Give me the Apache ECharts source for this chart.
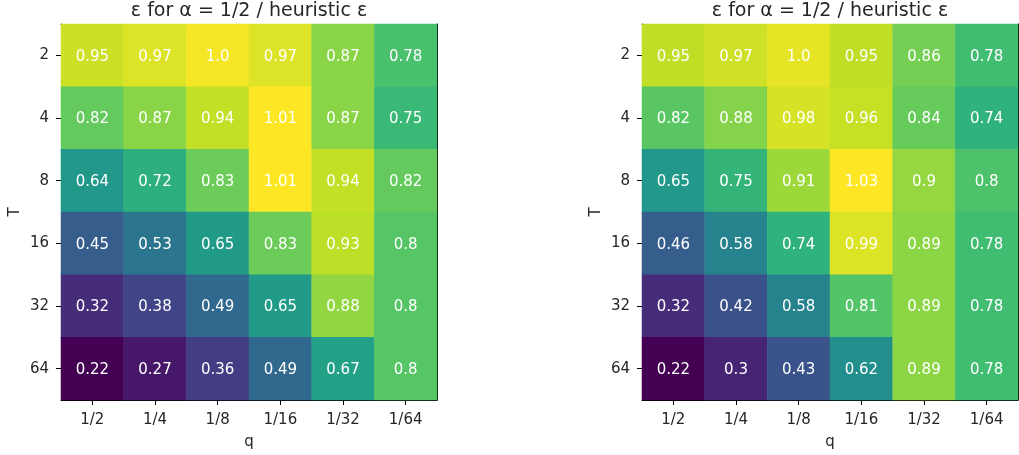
<!DOCTYPE html>
<html>
<head>
<meta charset="utf-8">
<script src="https://cdn.jsdelivr.net/npm/echarts@6/dist/echarts.min.js"></script>
<style>
  html, body { margin: 0; padding: 0; background: #fff; }
  #chart { width: 1019px; height: 455px; }
</style>
</head>
<body>
<div id="chart"></div>
<script>
// Axis categories
const qLabels = ['1/2', '1/4', '1/8', '1/16', '1/32', '1/64'];
const tLabels = ['2', '4', '8', '16', '32', '64'];

// Ratio of epsilon for alpha = 1/2 to the heuristic epsilon; rows follow tLabels, columns follow qLabels
const leftValues = [
  [0.95, 0.97, 1.0, 0.97, 0.87, 0.78],
  [0.82, 0.87, 0.94, 1.01, 0.87, 0.75],
  [0.64, 0.72, 0.83, 1.01, 0.94, 0.82],
  [0.45, 0.53, 0.65, 0.83, 0.93, 0.8],
  [0.32, 0.38, 0.49, 0.65, 0.88, 0.8],
  [0.22, 0.27, 0.36, 0.49, 0.67, 0.8]
];
const rightValues = [
  [0.95, 0.97, 1.0, 0.95, 0.86, 0.78],
  [0.82, 0.88, 0.98, 0.96, 0.84, 0.74],
  [0.65, 0.75, 0.91, 1.03, 0.9, 0.8],
  [0.46, 0.58, 0.74, 0.99, 0.89, 0.78],
  [0.32, 0.42, 0.58, 0.81, 0.89, 0.78],
  [0.22, 0.3, 0.43, 0.62, 0.89, 0.78]
];

const titleText = 'ε for α = 1/2 / heuristic ε';

// viridis colour ramp
const viridis = ['#440154', '#482475', '#414487', '#355f8d', '#2a788e', '#21918c',
                 '#22a884', '#44bf70', '#7ad151', '#bddf26', '#fde725'];

const FONT = 'DejaVu Sans';
const textColor = '#262626';
const LABEL_SIZE = 15;
const TITLE_SIZE = 19;

function toCells(values) {
  const out = [];
  values.forEach((row, r) => row.forEach((v, c) => out.push([c, r, v])));
  return out;
}
function fmt(v) {
  return Number.isInteger(v) ? v.toFixed(1) : String(v);
}
function flatMin(values) { return Math.min(...values.flat()); }
function flatMax(values) { return Math.max(...values.flat()); }

const grids = [
  { left: 61, top: 24, width: 376, height: 378 },
  { left: 642, top: 24, width: 376, height: 378 }
];
const panels = [leftValues, rightValues];

const option = {
  animation: false,
  backgroundColor: '#ffffff',
  title: grids.map(g => ({
    text: titleText,
    left: g.left + g.width / 2,
    textAlign: 'center',
    top: 2,
    padding: 0,
    textStyle: { fontFamily: FONT, fontSize: TITLE_SIZE, fontWeight: 'normal', color: textColor }
  })),
  grid: grids,
  xAxis: [],
  yAxis: [],
  visualMap: [],
  series: []
};

panels.forEach((vals, i) => {
  // bottom category axis
  option.xAxis.push({
    type: 'category', gridIndex: i, data: qLabels, position: 'bottom',
    name: 'q', nameLocation: 'middle', nameGap: 35,
    nameTextStyle: { fontFamily: FONT, fontSize: LABEL_SIZE, color: textColor },
    axisLine: { show: true, lineStyle: { color: '#000', width: 1 } },
    axisTick: { show: true, alignWithLabel: true, length: 5, lineStyle: { color: '#000' } },
    axisLabel: { fontFamily: FONT, fontSize: LABEL_SIZE, color: textColor, margin: 13 },
    splitLine: { show: false }
  });
  // top frame edge
  option.xAxis.push({
    type: 'category', gridIndex: i, data: qLabels, position: 'top',
    axisLine: { show: true, lineStyle: { color: '#000', width: 1 } },
    axisTick: { show: false }, axisLabel: { show: false }, splitLine: { show: false }
  });
  // left category axis
  option.yAxis.push({
    type: 'category', gridIndex: i, data: tLabels, inverse: true, position: 'left',
    name: 'T', nameLocation: 'middle', nameGap: 38,
    nameTextStyle: { fontFamily: FONT, fontSize: LABEL_SIZE, color: textColor },
    axisLine: { show: true, lineStyle: { color: '#000', width: 1 } },
    axisTick: { show: true, alignWithLabel: true, length: 5, lineStyle: { color: '#000' } },
    axisLabel: { fontFamily: FONT, fontSize: LABEL_SIZE, color: textColor, margin: 12 },
    splitLine: { show: false }
  });
  // right frame edge
  option.yAxis.push({
    type: 'category', gridIndex: i, data: tLabels, inverse: true, position: 'right',
    axisLine: { show: true, lineStyle: { color: '#000', width: 1 } },
    axisTick: { show: false }, axisLabel: { show: false }, splitLine: { show: false }
  });
  option.visualMap.push({
    type: 'continuous', show: false, seriesIndex: i,
    min: flatMin(vals), max: flatMax(vals),
    inRange: { color: viridis }
  });
  option.series.push({
    type: 'heatmap',
    xAxisIndex: i * 2, yAxisIndex: i * 2,
    data: toCells(vals),
    label: {
      show: true, color: '#ffffff', fontFamily: FONT, fontSize: LABEL_SIZE,
      offset: [0, 1.5],
      formatter: p => fmt(p.value[2])
    },
    itemStyle: { borderWidth: 0 },
    emphasis: { disabled: true }
  });
});

const chart = echarts.init(document.getElementById('chart'), null, { renderer: 'canvas' });
chart.setOption(option);
</script>
</body>
</html>
